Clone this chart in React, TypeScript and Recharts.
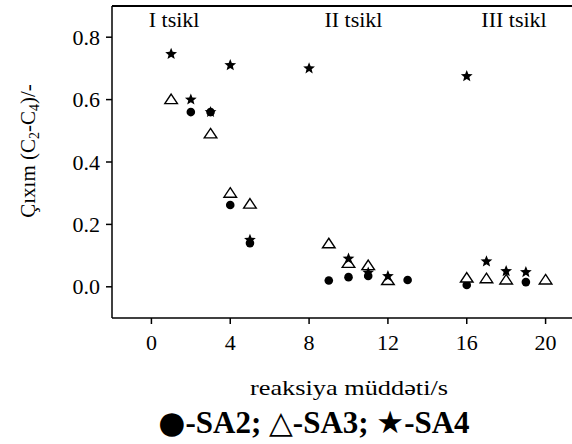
import { ScatterChart, Scatter, XAxis, YAxis, ReferenceLine, ReferenceDot, Legend } from 'recharts';

const sa2X = [2, 3, 4, 5, 9, 10, 11, 13, 16, 19];
const sa2Y = [0.56, 0.56, 0.262, 0.14, 0.02, 0.031, 0.035, 0.022, 0.006, 0.015];
const sa3X = [1, 3, 4, 5, 9, 10, 11, 12, 16, 17, 18, 20];
const sa3Y = [0.6, 0.49, 0.3, 0.265, 0.138, 0.075, 0.068, 0.02, 0.028, 0.026, 0.022, 0.022];
const sa4X = [1, 2, 3, 4, 5, 8, 10, 11, 12, 16, 17, 18, 19];
const sa4Y = [0.746, 0.6, 0.56, 0.71, 0.15, 0.7, 0.09, 0.045, 0.034, 0.675, 0.081, 0.05, 0.047];

const xTicks = [0, 4, 8, 12, 16, 20];
const yTicks = [0, 0.2, 0.4, 0.6, 0.8];
const tsiklLabels = ['I tsikl', 'II tsikl', 'III tsikl'];
const tsiklX = [1.15, 10.25, 18.4];
const tsiklY = 0.858;

const xDomain = [-2, 22];
const yDomain = [-0.1, 0.9];

const serif = 'Liberation Serif, Times New Roman, serif';

const toPoints = (xs: number[], ys: number[]) => xs.map((x, i) => ({ x, y: ys[i] }));

const CircleShape = (p: any) => <circle cx={p.cx} cy={p.cy} r={4.3} fill="#000" />;

const TriangleShape = (p: any) => (
  <path
    d={`M${p.cx},${p.cy - 5.5} L${p.cx + 6.3},${p.cy + 4} L${p.cx - 6.3},${p.cy + 4} Z`}
    fill="#fff"
    stroke="#000"
    strokeWidth={1.4}
  />
);

const StarShape = (p: any) => {
  const pts: string[] = [];
  for (let i = 0; i < 10; i++) {
    const r = i % 2 === 0 ? 6.2 : 2.7;
    const a = -Math.PI / 2 + (i * Math.PI) / 5;
    pts.push(`${p.cx + r * Math.cos(a)},${p.cy + r * Math.sin(a)}`);
  }
  return <polygon points={pts.join(' ')} fill="#000" />;
};

const XTick = (p: any) => (
  <text x={p.x} y={p.y + 15} textAnchor="middle" fontFamily={serif} fontSize={22} fill="#000">
    {p.payload.value}
  </text>
);

const YTick = (p: any) => (
  <text x={p.x} y={p.y + 7.5} textAnchor="end" fontFamily={serif} fontSize={22} fill="#000">
    {Number(p.payload.value).toFixed(1)}
  </text>
);

const legendSymbols: Record<string, string> = { SA2: '●', SA3: '△', SA4: '★' };

const LegendContent = (props: any) => {
  const items = props.payload || [];
  return (
    <div style={{ textAlign: 'center', fontFamily: serif, fontWeight: 'bold', fontSize: 31, lineHeight: '32px', color: '#000', whiteSpace: 'nowrap' }}>
      {items.map((it: any, i: number) => (
        <span key={it.value}>
          <span style={{ fontFamily: 'DejaVu Sans, sans-serif', fontWeight: 'normal' }}>{legendSymbols[it.value]}</span>
          -{it.value}
          {i < items.length - 1 ? '; ' : ''}
        </span>
      ))}
    </div>
  );
};

const YLabel = () => (
  <text transform="translate(35,151) rotate(-90)" x={0} y={0} textAnchor="middle" fontFamily={serif} fontSize={21} fill="#000">
    Çıxım (C<tspan dy={4} fontSize={14}>2</tspan>
    <tspan dy={-4}>-C</tspan>
    <tspan dy={4} fontSize={14}>4</tspan>
    <tspan dy={-4}>)/-</tspan>
  </text>
);

const XLabel = () => (
  <text x={349} y={395} textAnchor="middle" fontFamily={serif} fontSize={21} fill="#000" textLength={198} lengthAdjust="spacingAndGlyphs">
    reaksiya müddəti/s
  </text>
);

export default function App() {
  return (
    <div style={{ position: 'absolute', left: 0, top: 0, width: 572, height: 444, overflow: 'hidden', background: '#fff' }}>
      <ScatterChart width={585} height={444} margin={{ top: 6, right: 0, left: 0, bottom: 0 }}>
        <XAxis
          type="number"
          dataKey="x"
          domain={xDomain}
          ticks={xTicks}
          allowDataOverflow
          height={126}
          tickSize={6}
          tickMargin={11}
          tick={<XTick />}
          stroke="#000"
          strokeWidth={1.5}
          label={<XLabel />}
        />
        <YAxis
          type="number"
          dataKey="y"
          domain={yDomain}
          ticks={yTicks}
          allowDataOverflow
          width={112}
          tickSize={6}
          tickMargin={6}
          tick={<YTick />}
          stroke="#000"
          strokeWidth={1.5}
          label={<YLabel />}
        />
        <ReferenceLine y={yDomain[1]} stroke="#000" strokeWidth={2} />
        {tsiklLabels.map((t, i) => (
          <ReferenceDot
            key={t}
            x={tsiklX[i]}
            y={tsiklY}
            r={0}
            fill="none"
            stroke="none"
            label={{ value: t, position: 'center', fill: '#000', stroke: 'none', fontFamily: serif, fontSize: 22 }}
          />
        ))}
        <Scatter name="SA2" data={toPoints(sa2X, sa2Y)} shape={CircleShape} fill="#000" isAnimationActive={false} />
        <Scatter name="SA3" data={toPoints(sa3X, sa3Y)} shape={TriangleShape} fill="#000" isAnimationActive={false} />
        <Scatter name="SA4" data={toPoints(sa4X, sa4Y)} shape={StarShape} fill="#000" isAnimationActive={false} />
        <Legend
          verticalAlign="middle"
          align="center"
          layout="horizontal"
          content={<LegendContent />}
          wrapperStyle={{ top: 406, left: 28, width: 572 }}
        />
      </ScatterChart>
    </div>
  );
}
